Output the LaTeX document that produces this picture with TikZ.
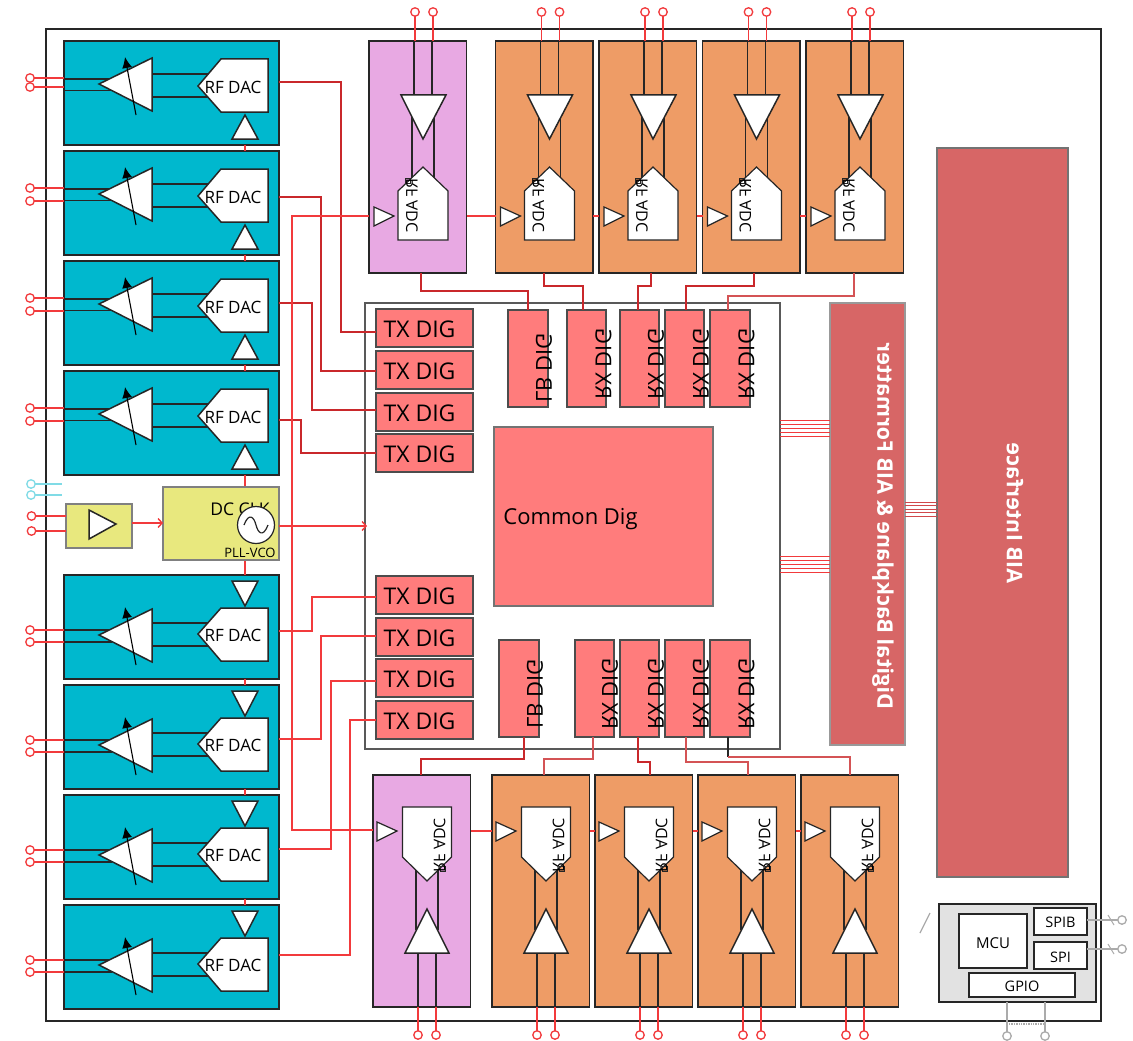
\documentclass[tikz,border=0pt]{standalone}
\usepackage{fontspec}
\setmainfont{Open Sans}
\usetikzlibrary{arrows.meta,calc}
\definecolor{cteal}{HTML}{00B8CE}
\definecolor{cpurp}{HTML}{E8A9E3}
\definecolor{corng}{HTML}{EE9C66}
\definecolor{cpink}{HTML}{FF7C7C}
\definecolor{cyell}{HTML}{E8E87E}
\definecolor{cbrick}{HTML}{D76666}
\definecolor{credl}{HTML}{F23A3C}
\definecolor{credd}{HTML}{C9282B}
\definecolor{cdark}{HTML}{262626}
\definecolor{cgrayf}{HTML}{E2E2E2}
\definecolor{cgrayl}{HTML}{ABABAB}
\newcommand{\fsz}[1]{\fontsize{#1}{#1}\selectfont}
\tikzset{
  x=1pt,y=-1pt,
  blockbox/.style={draw=cdark,line width=1.8pt,inner sep=0pt,outer sep=0pt,anchor=north west},
  digbox/.style={draw=black!70,line width=1.5pt,fill=cpink,inner sep=0pt,outer sep=0pt,anchor=north west},
  softbox/.style={draw=black!50,line width=1.3pt,inner sep=0pt,outer sep=0pt,anchor=north west},
  term/.style={circle,draw=credl,fill=white,line width=1.3pt,minimum size=8.5pt,inner sep=0pt,outer sep=0pt},
  termb/.style={term,draw=cteal!50!white},
  termg/.style={term,draw=cgrayl},
  rl/.style={draw=credl,line width=1.5pt},
  rd/.style={draw=credd,line width=1.7pt},
  wire/.style={draw=cdark,line width=1.3pt},
  whiteshape/.style={draw=cdark,fill=white,line width=1.5pt,line join=miter},
  glabel/.style={inner sep=0pt,text=black},
  mirup/.style={glabel,rotate=90,yscale=-1},
  mirdn/.style={glabel,rotate=-90,yscale=-1},
  gainarrow/.style={draw=black,line width=1.1pt,-{Latex[length=11pt,width=10pt]}},
  barb/.style={-{Straight Barb[length=4pt,width=9pt,line width=1.4pt]}},
}
\newcommand{\dacup}[2]{%
\begin{scope}[shift={(0,#2)}]
  \node[blockbox,fill=cteal,minimum width=215pt,minimum height=104pt] (#1) at (64,0) {};
  \draw[wire] (64,38)--(112,38) (64,49.5)--(112,49.5) (150,33)--(212,33) (150,56)--(212,56);
  \draw[whiteshape] (99,43)--(152,17)--(152,70)--cycle;
  \draw[gainarrow] (136,74)--(125,16);
  \draw[whiteshape] (198,45)--(221,18)--(268,18)--(268,71)--(221,71)--cycle;
  \draw[whiteshape] (245,74)--(232,98)--(258,98)--cycle;
  \node[glabel] (#1lab) at (233,46.5) {\fsz{17}RF DAC};
\end{scope}}
\newcommand{\dacdown}[2]{%
\begin{scope}[shift={(0,#2)}]
  \node[blockbox,fill=cteal,minimum width=215pt,minimum height=104pt] (#1) at (64,0) {};
  \draw[wire] (64,55)--(112,55) (64,67)--(112,67) (150,48)--(212,48) (150,71)--(212,71);
  \draw[whiteshape] (99,60)--(152,34)--(152,87)--cycle;
  \draw[gainarrow] (136,90)--(125,32);
  \draw[whiteshape] (198,59)--(221,33)--(268,33)--(268,86)--(221,86)--cycle;
  \draw[whiteshape] (232,6)--(258,6)--(245,31)--cycle;
  \node[glabel] (#1lab) at (233,60.5) {\fsz{17}RF DAC};
\end{scope}}
\newcommand{\adctop}[3]{%
\begin{scope}[shift={(#2,0)}]
  \node[blockbox,fill=#3,minimum width=97.5pt,minimum height=232pt] (#1) at (-54,41) {};
  \node[term] (#1a) at (-8,12) {};
  \node[term] (#1b) at (10,12) {};
  \draw[rl] (#1a) -- (#1a |- #1.north);
  \draw[rl] (#1b) -- (#1b |- #1.north);
  \draw[wire] (-9,41)--(-9,100) (9,41)--(9,100) (-11,115)--(-11,178) (11,115)--(11,178);
  \draw[whiteshape] (-22,95)--(23,95)--(0,139)--cycle;
  \draw[whiteshape,line width=1.2pt] (0,167)--(25,191)--(25,240)--(-25,240)--(-25,191)--cycle;
  \draw[wire,line width=.9pt] (-17.5,178.5) rectangle (-12.5,183.5);
  \node[mirdn] (#1lab) at (-11,205.5) {\fsz{16}RF ADC};
  \draw[whiteshape,line width=1.2pt] (-49,207)--(-29,216)--(-49,226)--cycle;
\end{scope}}
\newcommand{\adcbot}[3]{%
\begin{scope}[shift={(#2,0)}]
  \node[blockbox,fill=#3,minimum width=97.5pt,minimum height=232pt] (#1) at (-54,775) {};
  \node[term] (#1a) at (-9,1035) {};
  \node[term] (#1b) at (9,1035) {};
  \draw[rl] (#1a) -- (#1a |- #1.south);
  \draw[rl] (#1b) -- (#1b |- #1.south);
  \draw[wire] (-9,948)--(-9,1007) (9,948)--(9,1007) (-11,870)--(-11,930) (11,870)--(11,930);
  \draw[whiteshape] (0,909)--(22,953)--(-22,953)--cycle;
  \draw[whiteshape,line width=1.2pt] (-24.5,807)--(24.5,807)--(24.5,857)--(0,881)--(-24.5,857)--cycle;
  \draw[wire,line width=.9pt] (13,866) rectangle (18,871);
  \node[mirup] (#1lab) at (12.5,845) {\fsz{16}RF ADC};
  \draw[whiteshape,line width=1.2pt] (-50,822)--(-30,831)--(-50,841)--cycle;
\end{scope}}
\begin{document}
\begin{tikzpicture}
\useasboundingbox (0,0) rectangle (1133,1041);
\fill[white] (0,0) rectangle (1133,1041);
% outer frame
\node[blockbox,fill=white,line width=1.6pt,minimum width=1055pt,minimum height=992pt] (frame) at (46,29) {};
% DAC rows
\dacup{ta}{41}
\dacup{tb}{151}
\dacup{tc}{261}
\dacup{td}{371}
\dacdown{te}{575}
\dacdown{tf}{685}
\dacdown{tg}{795}
\dacdown{th}{905}
% DAC terminals
\node[term] (pa1) at (30,78) {}; \node[term] (pa2) at (30,87) {};
\node[term] (pb1) at (30,188) {}; \node[term] (pb2) at (30,201) {};
\node[term] (pc1) at (30,298) {}; \node[term] (pc2) at (30,311) {};
\node[term] (pd1) at (30,408) {}; \node[term] (pd2) at (30,421) {};
\node[term] (pe1) at (30,630) {}; \node[term] (pe2) at (30,642) {};
\node[term] (pf1) at (30,740) {}; \node[term] (pf2) at (30,752) {};
\node[term] (pg1) at (30,850) {}; \node[term] (pg2) at (30,862) {};
\node[term] (ph1) at (30,960) {}; \node[term] (ph2) at (30,972) {};
\foreach \n/\b in {pa1/ta,pa2/ta,pb1/tb,pb2/tb,pc1/tc,pc2/tc,pd1/td,pd2/td,pe1/te,pe2/te,pf1/tf,pf2/tf,pg1/tg,pg2/tg,ph1/th,ph2/th}
  \draw[rl] (\n) -- (\b.west |- \n);
% clock chain between DAC rows
\draw[rl] (245,145)--(245,151) (245,255)--(245,261) (245,365)--(245,371) (245,475)--(245,487) (245,560)--(245,575) (245,679)--(245,685) (245,789)--(245,795) (245,899)--(245,905);
% clock block
\node[softbox,fill=cyell,minimum width=66pt,minimum height=44pt] (refamp) at (66,504) {};
\draw[whiteshape] (89,510)--(116,524)--(89,539)--cycle;
\node[softbox,fill=cyell,minimum width=116pt,minimum height=73pt] (pll) at (163,487) {};
\node[glabel] (dcclk) at (240,509.5) {\fsz{17.5}DC CLK};
\node[circle,draw=cdark,fill=white,line width=1.2pt,minimum size=37pt,inner sep=0pt] (vco) at (256,525) {};
\draw[line width=1.2pt,draw=cdark] ($(vco)+(-12,0)$) .. controls ($(vco)+(-7,-13)$) and ($(vco)+(-2,-8)$) .. (vco.center) .. controls ($(vco)+(2,8)$) and ($(vco)+(7,13)$) .. ($(vco)+(12,0)$);
\node[glabel] (pllvco) at (250,553) {\fsz{13}PLL-VCO};
\node[term] (ra1) at (31.5,516) {}; \node[term] (ra2) at (31.5,531) {};
\draw[rl] (ra1) -- (refamp.west |- ra1);
\draw[rl] (ra2) -- (refamp.west |- ra2);
\node[termb] (ba1) at (31,484) {}; \node[termb] (ba2) at (31,495) {};
\coordinate (bend1) at (62,484); \coordinate (bend2) at (62,495);
\draw[line width=1.2pt,draw=cteal!50!white] (ba1)--(bend1) (ba2)--(bend2);
\draw[rl,barb] (refamp.east |- 0,523) -- (pll.west |- 0,523);
% central digital block
\node[softbox,fill=white,draw=black!65,minimum width=415pt,minimum height=446pt] (core) at (365,303) {};
\node[digbox,minimum width=97pt,minimum height=38pt] (tx1) at (376,309) {}; 
\node[digbox,minimum width=97pt,minimum height=38pt] (tx2) at (376,351) {};
\node[digbox,minimum width=97pt,minimum height=38pt] (tx3) at (376,393) {};
\node[digbox,minimum width=97pt,minimum height=38pt] (tx4) at (376,434) {};
\node[digbox,minimum width=97pt,minimum height=38pt] (tx5) at (376,576) {};
\node[digbox,minimum width=97pt,minimum height=38pt] (tx6) at (376,618) {};
\node[digbox,minimum width=97pt,minimum height=38pt] (tx7) at (376,659) {};
\node[digbox,minimum width=97pt,minimum height=38pt] (tx8) at (376,701) {};
\foreach \n in {tx1,tx2,tx3,tx4,tx5,tx6,tx7,tx8}
  \node[glabel] (\n lab) at ($(\n)+(-5,1.5)$) {\fsz{23}TX DIG};
\node[digbox,draw=black!55,minimum width=219pt,minimum height=179pt] (common) at (494,427) {};
\node[glabel] (commonlab) at (570.5,519.5) {\fsz{22}Common Dig};
% top DIG boxes
\node[digbox,minimum width=40pt,minimum height=97pt] (lbt) at (508,310) {};
\node[digbox,minimum width=39pt,minimum height=97pt] (rxa) at (567,310) {};
\node[digbox,minimum width=39pt,minimum height=97pt] (rxb) at (620,310) {};
\node[digbox,minimum width=39pt,minimum height=97pt] (rxc) at (665,310) {};
\node[digbox,minimum width=40pt,minimum height=97pt] (rxd) at (710,310) {};
\node[mirup] (lbtlab) at (544,368) {\fsz{22}LB DIG};
\node[mirup] (rxalab) at (603.5,364) {\fsz{22}RX DIG};
\node[mirup] (rxblab) at (656,364) {\fsz{22}RX DIG};
\node[mirup] (rxclab) at (701,364) {\fsz{22}RX DIG};
\node[mirup] (rxdlab) at (746.5,364) {\fsz{22}RX DIG};
% bottom DIG boxes
\node[digbox,minimum width=40pt,minimum height=97pt] (lbb) at (499,640) {};
\node[digbox,minimum width=39pt,minimum height=97pt] (rxe) at (575,640) {};
\node[digbox,minimum width=39pt,minimum height=97pt] (rxf) at (620,640) {};
\node[digbox,minimum width=39pt,minimum height=97pt] (rxg) at (665,640) {};
\node[digbox,minimum width=40pt,minimum height=97pt] (rxh) at (710,640) {};
\node[mirup] (lbblab) at (535,694) {\fsz{22}LB DIG};
\node[mirup] (rxelab) at (610,694) {\fsz{22}RX DIG};
\node[mirup] (rxflab) at (656,694) {\fsz{22}RX DIG};
\node[mirup] (rxglab) at (701,694) {\fsz{22}RX DIG};
\node[mirup] (rxhlab) at (746.5,694) {\fsz{22}RX DIG};
% ADC columns
\adctop{aa}{423}{cpurp}
\adctop{ab}{549.5}{corng}
\adctop{ac}{653}{corng}
\adctop{ad}{756.5}{corng}
\adctop{ae}{860}{corng}
\adcbot{ba}{427}{cpurp}
\adcbot{bb}{546}{corng}
\adcbot{bc}{649}{corng}
\adcbot{bd}{752}{corng}
\adcbot{be}{855}{corng}
% formatter and interface
\node[softbox,fill=cbrick,draw=black!40,minimum width=75pt,minimum height=442pt] (fmt) at (830,303) {};
\node[softbox,fill=cbrick,draw=black!55,minimum width=131pt,minimum height=729pt] (aib) at (937,148) {};
\node[mirup,text=white] (fmtlab) at (883,526) {\fsz{21.5}\bfseries Digital Backplane \& AIB Formatter};
\node[mirup,text=white] (aiblab) at (1015,513) {\fsz{21.5}\bfseries AIB Interface};
% buses
\foreach \d in {0,4.2,8.4,12.6,16.8}{
  \draw[draw=credl,line width=.8pt] (core.east |- 0,420+\d) -- (fmt.west |- 0,420+\d);
  \draw[draw=credl,line width=.8pt] (core.east |- 0,556+\d) -- (fmt.west |- 0,556+\d);
}
\foreach \d in {0,3.6,7.2,10.8,14.4}
  \draw[draw=credd!85,line width=.9pt] (fmt.east |- 0,502+\d) -- (aib.west |- 0,502+\d);
% DAC to TX DIG
\draw[rd] (ta.east |- 0,82) -| (341,332) -- (tx1.west |- 0,332);
\draw[rd] (tb.east |- 0,197) -| (321,371) -- (tx2.west |- 0,371);
\draw[rd] (tc.east |- 0,303) -| (312,410) -- (tx3.west |- 0,410);
\draw[rd] (td.east |- 0,420) -| (301,453) -- (tx4.west |- 0,453);
\draw[rl] (te.east |- 0,631) -| (312,597) -- (tx5.west |- 0,597);
\draw[rl] (tf.east |- 0,739) -| (321,636) -- (tx6.west |- 0,636);
\draw[rl] (tg.east |- 0,849) -| (331,681) -- (tx7.west |- 0,681);
\draw[rl] (th.east |- 0,955) -| (350,720) -- (tx8.west |- 0,720);
% clock distribution
\draw[rl] (aa.west |- 0,216) -| (292,830) -- (ba.west |- 0,830);
\draw[rl,barb] (pll.east |- 0,526) -- (367,526);
\draw[rl] (aa.east |- 0,216) -- (ab.west |- 0,216);
\draw[rl] (ab.east |- 0,216) -- (ac.west |- 0,216);
\draw[rl] (ac.east |- 0,216) -- (ad.west |- 0,216);
\draw[rl] (ad.east |- 0,216) -- (ae.west |- 0,216);
\draw[rl] (ba.east |- 0,831) -- (bb.west |- 0,831);
\draw[rl] (bb.east |- 0,831) -- (bc.west |- 0,831);
\draw[rl] (bc.east |- 0,831) -- (bd.west |- 0,831);
\draw[rl] (bd.east |- 0,831) -- (be.west |- 0,831);
% ADC to DIG, top
\draw[rd] (421,0 |- aa.south) -- (421,291) -| (528,0 |- lbt.north);
\draw[rd] (544,0 |- ab.south) -- (544,286) -| (583,0 |- rxa.north);
\draw[rd] (651,0 |- ac.south) -- (651,286) -| (638,0 |- rxb.north);
\draw[rd] (754,0 |- ad.south) -- (754,286) -| (686,0 |- rxc.north);
\draw[rd,draw=credd!80] (854,0 |- ae.south) -- (854,296) -| (728,0 |- rxd.north);
% ADC to DIG, bottom
\draw[rd] (524,0 |- lbb.south) -- (524,759) -| (421,0 |- ba.north);
\draw[rd,draw=credd!80] (593,0 |- rxe.south) -- (593,759) -| (544,0 |- bb.north);
\draw[rd] (638,0 |- rxf.south) -- (638,762) -| (650,0 |- bc.north);
\draw[rd,draw=credd!80] (686,0 |- rxg.south) -- (686,762) -| (748,0 |- bd.north);
\draw[wire] (728,0 |- rxh.south) -- (728,757);
\draw[rd,draw=credd!80] (728,757) -| (850,0 |- be.north);
% MCU
\node[blockbox,fill=cgrayf,minimum width=157pt,minimum height=98pt] (sys) at (939,904) {};
\node[blockbox,fill=white,minimum width=68pt,minimum height=54pt] (mcu) at (959,914) {};
\node[glabel] (mculab) at (993,943) {\fsz{15}MCU};
\node[blockbox,fill=white,minimum width=53pt,minimum height=27pt] (spib) at (1034,908) {};
\node[glabel] (spiblab) at (1060.5,922) {\fsz{14.5}SPIB};
\node[blockbox,fill=white,minimum width=53pt,minimum height=27pt] (spi) at (1034,942) {};
\node[glabel] (spilab) at (1060.5,957) {\fsz{14.5}SPI};
\node[blockbox,fill=white,minimum width=106pt,minimum height=24pt] (gpio) at (969,973) {};
\node[glabel] (gpiolab) at (1022,986) {\fsz{14.5}GPIO};
\node[termg] (ts1) at (1122,920) {}; \node[termg] (ts2) at (1122,949) {};
\node[termg] (tg1) at (1007,1036) {}; \node[termg] (tg2) at (1045,1036) {};
\draw[draw=cgrayl,line width=1.3pt] (spib.east |- ts1) -- (ts1);
\draw[draw=cgrayl,line width=1.3pt] (spi.east |- ts2) -- (ts2);
\draw[draw=cgrayl,line width=1pt] (1108,915)--(1114,925) (1108,944)--(1114,954);
\draw[draw=cgrayl,line width=1.6pt] (tg1 |- sys.south) -- (tg1);
\draw[draw=cgrayl,line width=1.6pt] (tg2 |- sys.south) -- (tg2);
\draw[draw=cgrayl,line width=1.4pt,densely dotted] (1009,1024) -- (1043,1024);
\draw[draw=cgrayl,line width=1.3pt] (920,933) -- (930,913);
\end{tikzpicture}
\end{document}
